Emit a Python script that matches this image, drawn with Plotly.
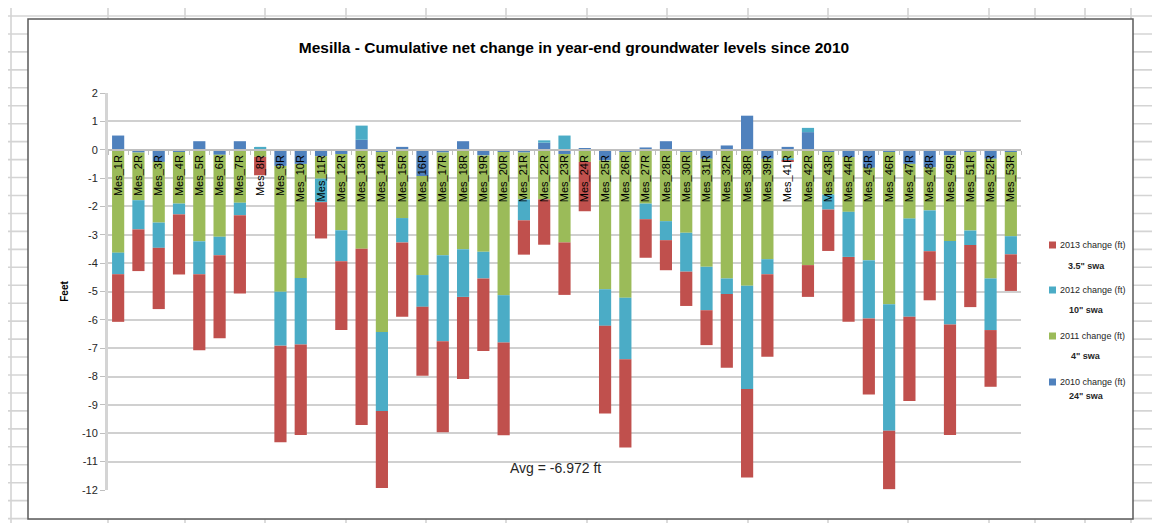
import plotly.graph_objects as go

categories = ["Mes_1R", "Mes_2R", "Mes_3R", "Mes_4R", "Mes_5R", "Mes_6R", "Mes_7R", "Mes_8R",
              "Mes_9R", "Mes_10R", "Mes_11R", "Mes_12R", "Mes_13R", "Mes_14R", "Mes_15R",
              "Mes_16R", "Mes_17R", "Mes_18R", "Mes_19R", "Mes_20R", "Mes_21R", "Mes_22R",
              "Mes_23R", "Mes_24R", "Mes_25R", "Mes_26R", "Mes_27R", "Mes_28R", "Mes_30R",
              "Mes_31R", "Mes_32R", "Mes_38R", "Mes_39R", "Mes_41R", "Mes_42R", "Mes_43R",
              "Mes_44R", "Mes_45R", "Mes_46R", "Mes_47R", "Mes_48R", "Mes_49R", "Mes_51R",
              "Mes_52R", "Mes_53R"]

change_2010 = [0.5, -0.1, -0.43, -0.08, 0.3, -0.18, 0.3, 0.0, -0.57, -0.5, -0.23, -0.15, 0.35,
               -0.08, 0.1, -0.93, -0.1, 0.3, -0.2, -0.08, -0.1, 0.25, -0.15, 0.05, -0.38, -0.08,
               0.08, 0.3, -0.08, -0.32, 0.15, 1.2, -0.32, 0.1, 0.62, -0.08, -0.26, -0.64, -0.08,
               -0.5, -0.62, -0.2, -0.08, -0.32, -0.08]
change_2011 = [-3.63, -1.68, -2.14, -1.82, -3.23, -2.89, -1.87, -0.25, -4.44, -4.02, -0.79, -2.69,
               -3.49, -6.35, -2.41, -3.49, -3.62, -3.51, -3.4, -5.05, -1.65, -1.75, -3.12, -0.43,
               -4.54, -5.14, -1.9, -2.52, -2.85, -3.81, -4.54, -4.8, -3.54, -0.3, -4.07, -1.5,
               -1.93, -3.26, -5.37, -1.93, -1.52, -3.02, -2.77, -4.22, -2.97]
change_2012 = [-0.76, -1.03, -0.89, -0.38, -1.16, -0.65, -0.44, 0.1, -1.9, -2.35, -0.83, -1.09,
               0.5, -2.78, -0.86, -1.12, -3.03, -1.68, -0.94, -1.67, -0.74, 0.08, 0.5, 0.0,
               -1.29, -2.17, -0.55, -0.67, -1.37, -1.53, -0.55, -3.64, -0.53, -0.08, 0.15, -0.53,
               -1.59, -2.05, -4.46, -3.46, -1.44, -2.94, -0.51, -1.82, -0.64]
change_2013 = [-1.68, -1.47, -2.16, -2.12, -2.68, -2.93, -2.76, -0.65, -3.41, -3.19, -1.28, -2.43,
               -6.22, -2.72, -2.62, -2.43, -3.21, -2.9, -2.56, -3.27, -1.21, -1.6, -1.85, -1.74,
               -3.09, -3.11, -1.36, -1.06, -1.21, -1.23, -2.6, -3.12, -2.91, -0.05, -1.12, -1.46,
               -2.29, -2.68, -2.06, -2.97, -1.73, -3.9, -2.19, -2.0, -1.29]

series_names = ["2010 change (ft)", "2011 change (ft)", "2012 change (ft)", "2013 change (ft)"]
series_swa = ['24" swa', '4" swa', '10" swa', '3.5" swa']
series_colors = ["#4F81BD", "#9BBB59", "#4BACC6", "#C0504D"]
y_ticks = list(range(2, -13, -1))
avg_label = "Avg = -6.972 ft"
title_text = "Mesilla - Cumulative net change in year-end groundwater levels since 2010"

FONT = "Liberation Sans, Arial, sans-serif"

# pixel layout helpers
L, R, T, B = 100, 1013, 85, 482
def px(xp):
    return (xp - L) / (R - L)
def py(yp):
    return (B - yp) / (B - T)

fig = go.Figure()
all_series = [change_2010, change_2011, change_2012, change_2013]
for name, vals, col in zip(series_names, all_series, series_colors):
    fig.add_trace(go.Bar(x=categories, y=vals, name=name, marker_color=col,
                         marker_line_width=0, showlegend=False))

shapes = []
# spreadsheet background grid
for k in range(30):
    yy = 8 + 17.95 * k
    shapes.append(dict(type="line", xref="paper", yref="paper", layer="below",
                       x0=px(0), x1=px(1160), y0=py(yy), y1=py(yy),
                       line=dict(color="#D4D4D4", width=1.6)))
col_x = [3, 100, 177, 257, 338, 418, 498, 579, 659, 740, 820, 900, 981, 1027, 1077, 1123]
for xx in col_x:
    shapes.append(dict(type="line", xref="paper", yref="paper", layer="below",
                       x0=px(xx), x1=px(xx), y0=py(0), y1=py(523),
                       line=dict(color="#D4D4D4", width=1.6)))
# chart box
shapes.append(dict(type="rect", xref="paper", yref="paper", layer="below",
                   x0=px(20), x1=px(1125), y0=py(511), y1=py(11),
                   fillcolor="white", line=dict(color="#595959", width=1.5)))

annotations = []
# legend (top to bottom: 2013, 2012, 2011, 2010)
leg_y = [374, 328, 282, 237]
swa_y = [388, 348, 302, 258]
for name, lab, col, ly, sy in zip(series_names, series_swa, series_colors, leg_y, swa_y):
    shapes.append(dict(type="rect", xref="paper", yref="paper", layer="above",
                       x0=px(1041), x1=px(1048), y0=py(ly + 3.5), y1=py(ly - 3.5),
                       fillcolor=col, line=dict(width=0)))
    annotations.append(dict(text=name, xref="paper", yref="paper", x=px(1050), y=py(ly),
                            showarrow=False, xanchor="left", yanchor="middle",
                            font=dict(family=FONT, size=9, color="#262626")))
    annotations.append(dict(text="<b>" + lab + "</b>", xref="paper", yref="paper",
                            x=px(1078), y=py(sy), showarrow=False,
                            font=dict(family=FONT, size=9, color="#262626"),
                            xanchor="center", yanchor="middle"))
annotations.append(dict(text=avg_label, xref="paper", yref="paper", x=px(547), y=py(460),
                        showarrow=False, font=dict(family=FONT, size=14, color="#262626"),
                        xanchor="center", yanchor="middle"))

fig.update_layout(
    width=1160, height=523,
    margin=dict(l=L, r=1160 - R, t=T, b=523 - B, autoexpand=False),
    paper_bgcolor="white", plot_bgcolor="rgba(0,0,0,0)",
    barmode="relative", bargap=0.4,
    title=dict(text="<b>" + title_text + "</b>", x=566 / 1160, xref="container",
               y=1 - 40 / 523, yref="container", xanchor="center", yanchor="middle",
               font=dict(family=FONT, size=15.5, color="black")),
    showlegend=False,
    shapes=shapes, annotations=annotations,
    xaxis=dict(anchor="free", position=12 / 14, showline=True, linecolor="#BFBFBF",
               linewidth=2, ticks="outside", tickson="boundaries", ticklen=4,
               tickcolor="#BFBFBF", tickangle=-90, showgrid=False,
               tickfont=dict(family=FONT, size=11, color="black"),
               range=[-0.5, len(categories) - 0.5]),
    yaxis=dict(range=[-12, 2], tickvals=y_ticks, ticktext=[str(v) for v in y_ticks],
               showgrid=True, gridcolor="#D0D0D0", gridwidth=2, zeroline=False,
               showline=True, linecolor="#D4D4D4", linewidth=3, ticks="outside",
               ticklen=5, tickcolor="#BFBFBF",
               tickfont=dict(family=FONT, size=11, color="#262626"),
               title=dict(text="<b>Feet</b>", standoff=12,
                          font=dict(family=FONT, size=10, color="black"))),
)

fig.write_html("out.html")
